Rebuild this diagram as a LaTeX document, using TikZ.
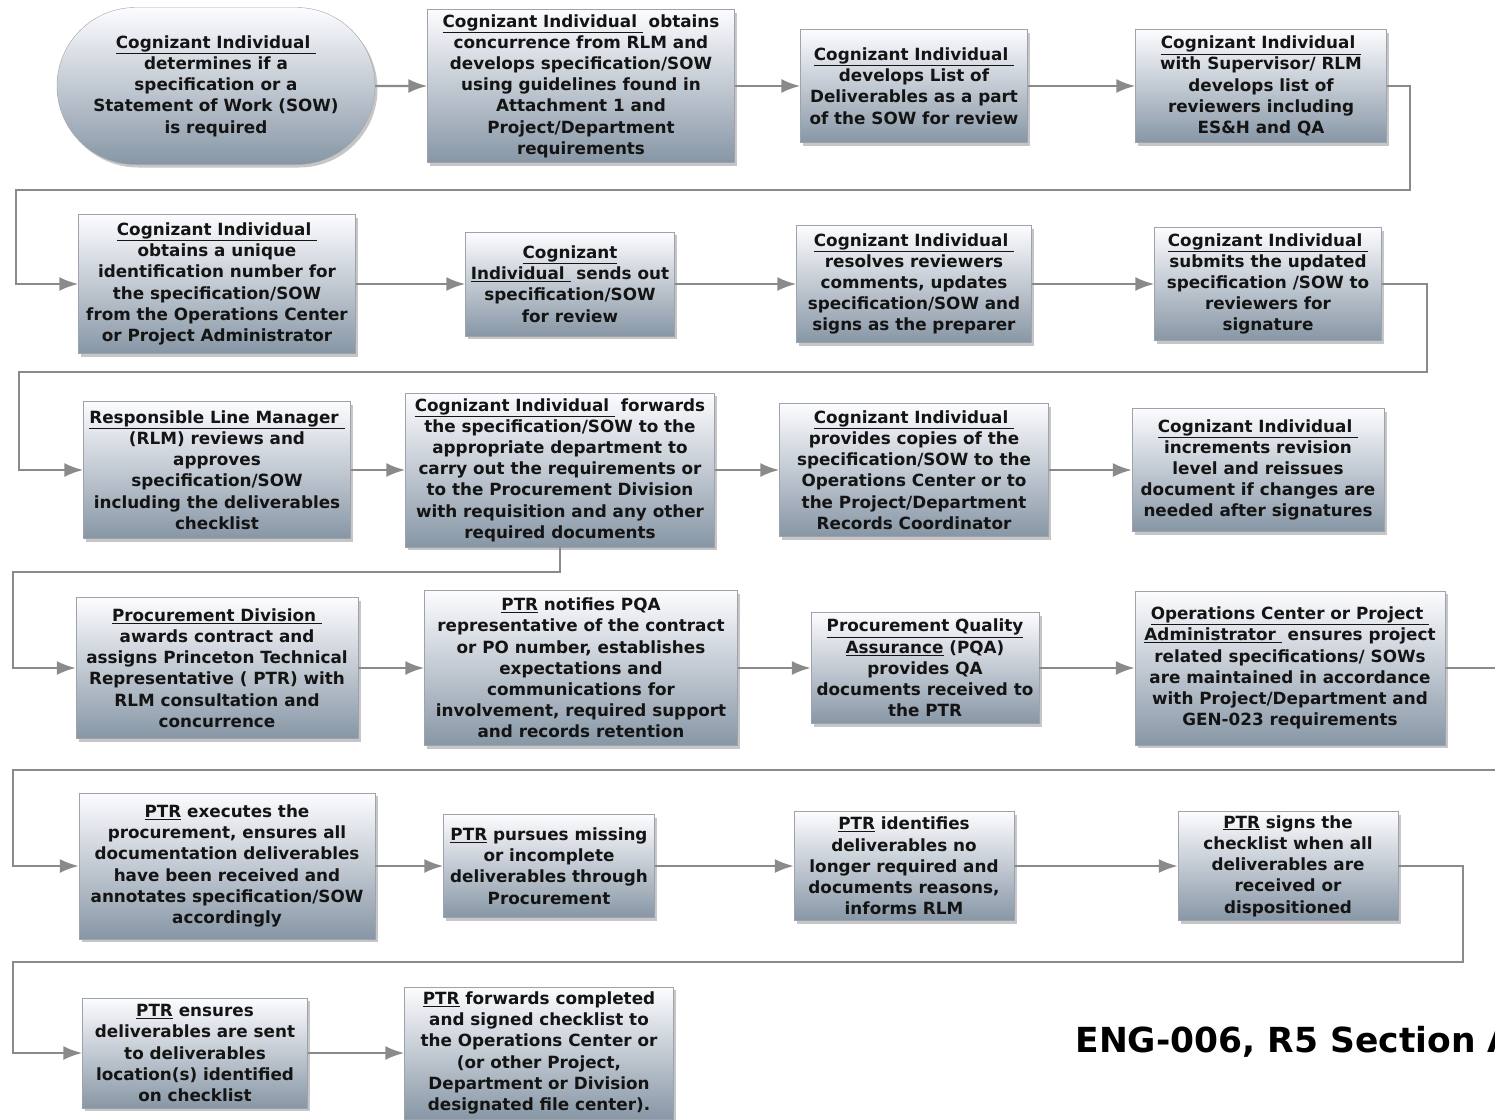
\documentclass[tikz,border=0pt]{standalone}
\usepackage{fontspec}
\setmainfont{DejaVu Sans}
\usepackage{tikz}
\usetikzlibrary{positioning,shapes.misc,arrows.meta,shadows}
\definecolor{boxtop}{rgb}{0.99,0.99,1.0}
\definecolor{boxbot}{rgb}{0.53,0.59,0.65}
\definecolor{boxline}{rgb}{0.62,0.64,0.67}
\definecolor{lngray}{rgb}{0.54,0.54,0.54}
\definecolor{txt}{rgb}{0.08,0.08,0.08}
\tikzstyle{pr}=[%
      rectangle, draw=boxline, thin, top color=boxtop, bottom color=boxbot,
      drop shadow={shadow xshift=2.5pt, shadow yshift=-3pt, opacity=0.45},
      text=txt, font=\fontsize{16.8}{21.2}\selectfont\bfseries,
      align=center, inner sep=0pt
]
\tikzstyle{tr}=[%
      pr, rounded rectangle
]
\tikzstyle{ln}=[%
      draw=lngray, line width=2.2pt, ->
]

\begin{document}
\begin{tikzpicture}[x=1pt, y=-1pt,
    >={Latex[length=19pt,width=14pt]}
  ]
    \useasboundingbox (0,0) rectangle (1495,1119);

    % row 1
    \node[tr, minimum width=318, minimum height=157] (b1) at (216,86)
      {\underline{Cognizant Individual\ }\\determines if a\\specification or a\\Statement of Work (SOW)\\is required};
    \node[pr, minimum width=307, minimum height=153] (b2) at (581,86)
      {\underline{Cognizant Individual\ } obtains\\concurrence from RLM and\\develops specification/SOW\\using guidelines found in\\Attachment 1 and\\Project/Department\\requirements};
    \node[pr, minimum width=227, minimum height=113] (b3) at (914,86)
      {\underline{Cognizant Individual\ }\\develops List of\\Deliverables as a part\\of the SOW for review};
    \node[pr, minimum width=251, minimum height=113] (b4) at (1261,86)
      {\underline{Cognizant Individual\ }\\with Supervisor/ RLM\\develops list of\\reviewers including\\ES\&H and QA};

    % row 2
    \node[pr, minimum width=277, minimum height=139] (b5) at (217,284)
      {\underline{Cognizant Individual\ }\\obtains a unique\\identification number for\\the specification/SOW\\from the Operations Center\\or Project Administrator};
    \node[pr, minimum width=209, minimum height=104] (b6) at (570,284)
      {\underline{Cognizant}\\\underline{Individual\ } sends out\\specification/SOW\\for review};
    \node[pr, minimum width=235, minimum height=117] (b7) at (914,284)
      {\underline{Cognizant Individual\ }\\resolves reviewers\\comments, updates\\specification/SOW and\\signs as the preparer};
    \node[pr, minimum width=227, minimum height=113] (b8) at (1268,284)
      {\underline{Cognizant Individual\ }\\submits the updated\\specification /SOW to\\reviewers for\\signature};

    % row 3
    \node[pr, minimum width=267, minimum height=137] (b9) at (217,470)
      {\underline{Responsible Line Manager\ }\\(RLM) reviews and\\approves\\specification/SOW\\including the deliverables\\checklist};
    \node[pr, minimum width=309, minimum height=154] (b10) at (560,470)
      {\underline{Cognizant Individual\ } forwards\\the specification/SOW to the\\appropriate department to\\carry out the requirements or\\to the Procurement Division\\with requisition and any other\\required documents};
    \node[pr, minimum width=269, minimum height=133] (b11) at (914,470)
      {\underline{Cognizant Individual\ }\\provides copies of the\\specification/SOW to the\\Operations Center or to\\the Project/Department\\Records Coordinator};
    \node[pr, minimum width=252, minimum height=123] (b12) at (1258,470)
      {\underline{Cognizant Individual\ }\\increments revision\\level and reissues\\document if changes are\\needed after signatures};

    % row 4
    \node[pr, minimum width=282, minimum height=141] (b13) at (217,668)
      {\underline{Procurement Division\ }\\awards contract and\\assigns Princeton Technical\\Representative ( PTR) with\\RLM consultation and\\concurrence};
    \node[pr, minimum width=313, minimum height=155] (b14) at (581,668)
      {\underline{PTR} notifies PQA\\representative of the contract\\or PO number, establishes\\expectations and\\communications for\\involvement, required support\\and records retention};
    \node[pr, minimum width=228, minimum height=111] (b15) at (925,668)
      {\underline{Procurement Quality}\\\underline{Assurance} (PQA)\\provides QA\\documents received to\\the PTR};
    \node[pr, minimum width=310, minimum height=154] (b16) at (1290,668)
      {\underline{Operations Center or Project\ }\\\underline{Administrator\ } ensures project\\related specifications/ SOWs\\are maintained in accordance\\with Project/Department and\\GEN-023 requirements};

    % row 5
    \node[pr, minimum width=296, minimum height=146] (b17) at (227,866)
      {\underline{PTR} executes the\\procurement, ensures all\\documentation deliverables\\have been received and\\annotates specification/SOW\\accordingly};
    \node[pr, minimum width=211, minimum height=103] (b18) at (549,866)
      {\underline{PTR} pursues missing\\or incomplete\\deliverables through\\Procurement};
    \node[pr, minimum width=220, minimum height=109] (b19) at (904,866)
      {\underline{PTR} identifies\\deliverables no\\longer required and\\documents reasons,\\informs RLM};
    \node[pr, minimum width=220, minimum height=109] (b20) at (1288,866)
      {\underline{PTR} signs the\\checklist when all\\deliverables are\\received or\\dispositioned};

    % row 6
    \node[pr, minimum width=225, minimum height=110] (b21) at (195,1053)
      {\underline{PTR} ensures\\deliverables are sent\\to deliverables\\location(s) identified\\on checklist};
    \node[pr, minimum width=269, minimum height=132] (b22) at (539,1053)
      {\underline{PTR} forwards completed\\and signed checklist to\\the Operations Center or\\(or other Project,\\Department or Division\\designated file center).};

    \node[anchor=west, font=\fontsize{34.5}{40}\selectfont\bfseries] (title) at (1072,1042)
      {ENG-006, R5 Section A};

    % turning points
    \coordinate (r1) at (1410,190);
    \coordinate (l1) at (16,190);
    \coordinate (r2) at (1427,372);
    \coordinate (l2) at (19,372);
    \coordinate (l3) at (13,572);
    \coordinate (r4) at (1510,770);
    \coordinate (l4) at (13,770);
    \coordinate (r5) at (1463,962);
    \coordinate (l5) at (13,962);

    \path (b1) edge[ln] (b2)
          (b2) edge[ln] (b3)
          (b3) edge[ln] (b4)
          (b5) edge[ln] (b6)
          (b6) edge[ln] (b7)
          (b7) edge[ln] (b8)
          (b9) edge[ln] (b10)
          (b10) edge[ln] (b11)
          (b11) edge[ln] (b12)
          (b13) edge[ln] (b14)
          (b14) edge[ln] (b15)
          (b15) edge[ln] (b16)
          (b17) edge[ln] (b18)
          (b18) edge[ln] (b19)
          (b19) edge[ln] (b20)
          (b21) edge[ln] (b22)
    ;
    \draw[ln] (b4.east) -| (r1) -- (l1) |- (b5.west);
    \draw[ln] (b8.east) -| (r2) -- (l2) |- (b9.west);
    \draw[ln] (b10.south) |- (l3) |- (b13.west);
    \draw[ln] (b16.east) -| (r4) -- (l4) |- (b17.west);
    \draw[ln] (b20.east) -| (r5) -- (l5) |- (b21.west);
  \end{tikzpicture}
\end{document}
